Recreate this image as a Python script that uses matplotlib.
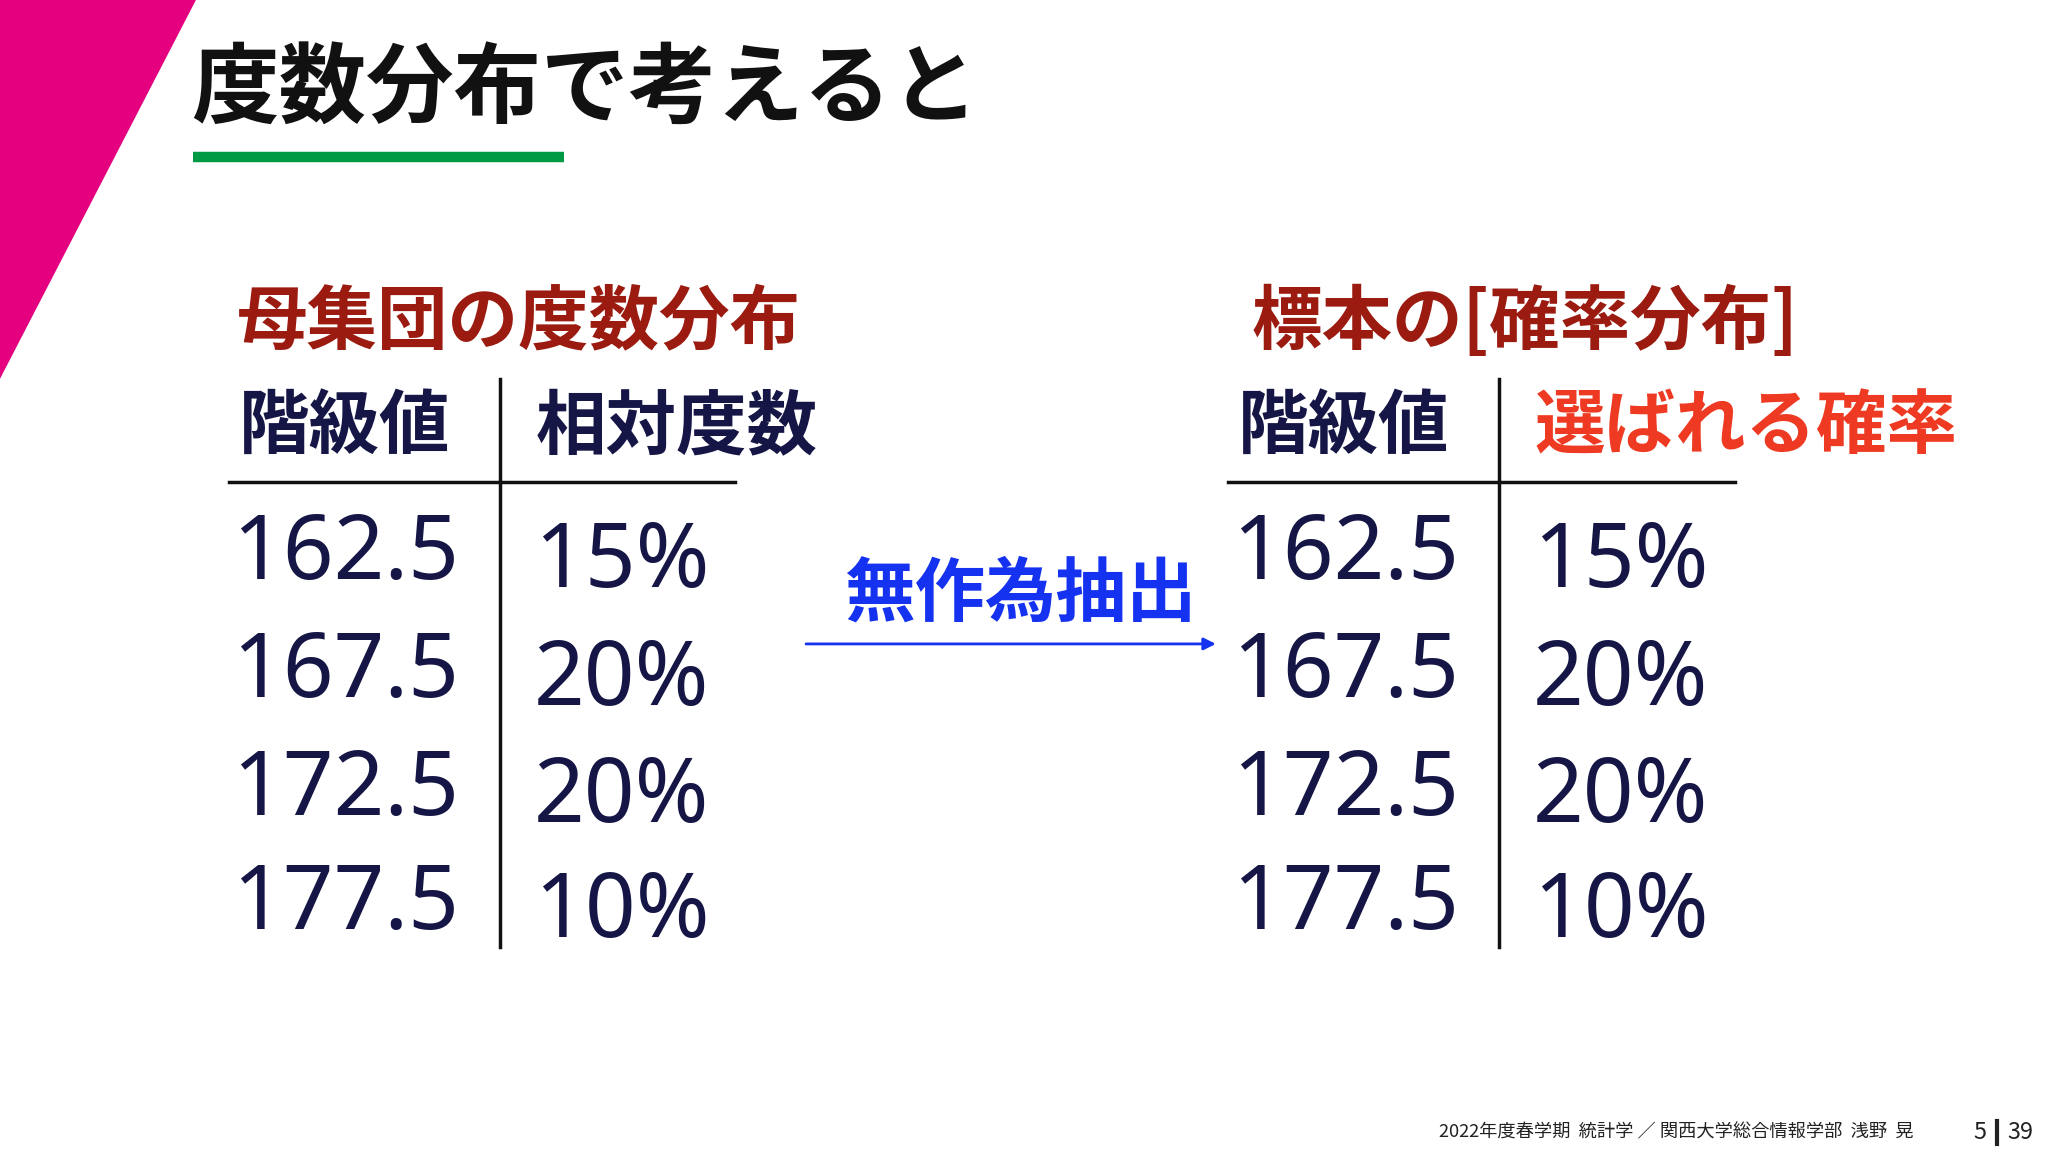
import matplotlib
matplotlib.use("Agg")
import matplotlib.pyplot as plt
from matplotlib.patches import Polygon, FancyArrowPatch

plt.rcParams['font.family'] = ['Noto Sans CJK JP', 'DejaVu Sans']

title = "度数分布で考えると"
left_heading = "母集団の度数分布"
right_heading = "標本の[確率分布]"
col_class = "階級値"
col_left = "相対度数"
col_right = "選ばれる確率"
arrow_label = "無作為抽出"
classes = ["162.5", "167.5", "172.5", "177.5"]
rel_freq = ["15%", "20%", "20%", "10%"]
footer = "2022年度春学期  統計学 ／ 関西大学総合情報学部  浅野  晃"
page, total = "5", "39"

W, H = 1568, 882
S = 2048 / W
fig = plt.figure(figsize=(20.48, 11.52), dpi=100)
ax = fig.add_axes([0, 0, 1, 1])
ax.set_xlim(0, W); ax.set_ylim(H, 0); ax.axis('off')

def pt(px):  # reference em px -> points
    return px * S * 0.72

navy = "#161646"
darkred = "#9B1B10"
red = "#EE3A22"
blue = "#1432F0"

ax.add_patch(Polygon([(0, 0), (150, 0), (0, 290)], closed=True, color="#E4007F", lw=0))
ax.text(146, 70, title, fontsize=pt(67), fontweight='bold', color="#111111", va='center', ha='left')
ax.plot([148, 432], [120, 120], color="#009944", lw=8 * S * 0.72, solid_capstyle='butt')

ys = [432, 522, 612, 700]
for dx, head, col2, c2 in [(0, left_heading, col_left, navy), (765, right_heading, col_right, red)]:
    hx = 181 if dx == 0 else 958
    ax.text(hx, 247, head, fontsize=pt(54), fontweight='bold', color=darkred, va='center', ha='left')
    ax.text(183 + dx, 327, col_class, fontsize=pt(54), fontweight='bold', color=navy, va='center', ha='left')
    ax.text(410 + dx, 327, col2, fontsize=pt(54), fontweight='bold', color=c2, va='center', ha='left')
    ax.plot([383 + dx, 383 + dx], [290, 725], color="#111111", lw=2.5)
    ax.plot([175 + dx, 563 + dx], [369, 369], color="#111111", lw=2.5)
    for y, c, f in zip(ys, classes, rel_freq):
        ax.text(178 + dx, y - 6, c, fontsize=pt(68), fontweight='semibold', color=navy,
                family=['Noto Sans', 'DejaVu Sans'], va='center', ha='left')
        ax.text(543 + dx, y, f, fontsize=pt(68), fontweight='semibold', color=navy,
                family=['Noto Sans', 'DejaVu Sans'], va='center', ha='right')

ax.text(781, 455, arrow_label, fontsize=pt(54), fontweight='bold', color=blue, va='center', ha='center')
ax.add_patch(FancyArrowPatch((615, 493), (933, 493), arrowstyle='-|>', mutation_scale=18,
                             color=blue, lw=2))

ax.text(1465, 867, footer, fontsize=pt(14), color="#222222", va='center', ha='right')
ax.text(1521, 867, page, fontsize=pt(18), color="#222222", va='center', ha='right')
ax.plot([1529, 1529], [858, 876], color="#222222", lw=3)
ax.text(1537, 867, total, fontsize=pt(18), color="#222222", va='center', ha='left')

fig.savefig("out.png", dpi=100, facecolor='white')
